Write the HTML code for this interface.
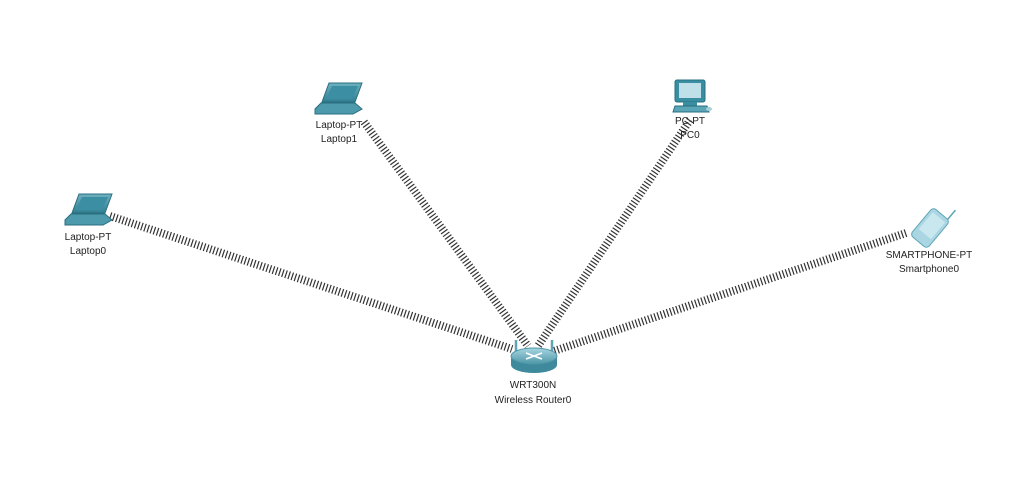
<!DOCTYPE html>
<html><head><style>
html,body{margin:0;padding:0;background:#fff;width:1024px;height:495px;overflow:hidden}
text{font-family:"Liberation Sans",sans-serif;font-size:10px;fill:#222;text-anchor:middle}
</style></head><body>
<svg width="1024" height="495" viewBox="0 0 1024 495" xmlns="http://www.w3.org/2000/svg">
<defs>
<linearGradient id="tl" x1="0" y1="0" x2="0" y2="1"><stop offset="0" stop-color="#6fb0c0"/><stop offset="1" stop-color="#2f7f92"/></linearGradient>
<linearGradient id="rt" x1="0" y1="0" x2="0" y2="1"><stop offset="0" stop-color="#a8d6e0"/><stop offset="1" stop-color="#4e97a8"/></linearGradient>
</defs>
<g stroke="#333" stroke-width="8" stroke-dasharray="1.2 2.1" fill="none">
<line x1="110" y1="216" x2="512" y2="349"/>
<line x1="364" y1="122" x2="528" y2="346"/>
<line x1="690" y1="120" x2="538" y2="346"/>
<line x1="906" y1="233" x2="554" y2="351"/>
</g>
<g transform="translate(65,193)">
<polygon points="14,1 47,1 40,20 7,20" fill="url(#tl)" stroke="#2a6f80"/>
<polygon points="17,4 43,4 37,17 11,17" fill="#3c8ea2"/>
<polygon points="6,21 40,21 47,27 38,32 0,32 0,27" fill="#4c9aac" stroke="#2a6f80"/>
</g>
<g transform="translate(315,82)">
<polygon points="14,1 47,1 40,20 7,20" fill="url(#tl)" stroke="#2a6f80"/>
<polygon points="17,4 43,4 37,17 11,17" fill="#3c8ea2"/>
<polygon points="6,21 40,21 47,27 38,32 0,32 0,27" fill="#4c9aac" stroke="#2a6f80"/>
</g>
<g transform="translate(673,80)">
<rect x="2" y="0" width="30" height="22" rx="2" fill="#3a8ea2" stroke="#2a6f80"/>
<rect x="6" y="3" width="22" height="15" fill="#bfe0e8"/>
<rect x="10" y="22" width="14" height="4" fill="#3a8ea2"/>
<polygon points="2,26 34,26 36,32 0,32" fill="#5aa5b6" stroke="#2a6f80"/>
<ellipse cx="36" cy="29" rx="3" ry="2" fill="#a9cfd8"/>
</g>
<g transform="translate(930,228) rotate(40)">
<rect x="-11" y="-18" width="22" height="36" rx="4" fill="#a9d6e2" stroke="#5fa5b6"/>
<rect x="-8" y="-14" width="16" height="22" fill="#c9e7ee"/>
<line x1="8" y1="-18" x2="8" y2="-30" stroke="#5fa5b6" stroke-width="1.5"/>
</g>
<g transform="translate(510,338)">
<line x1="6" y1="14" x2="6" y2="2" stroke="#5fa5b6" stroke-width="2.5"/>
<line x1="42" y1="14" x2="42" y2="2" stroke="#5fa5b6" stroke-width="2.5"/>
<path d="M1,18 L1,27 A23,8 0 0 0 47,27 L47,18 Z" fill="#3e8a9c"/>
<ellipse cx="24" cy="18" rx="23" ry="8" fill="url(#rt)" stroke="#4e97a8"/>
<path d="M16,15 L32,21 M32,15 L16,21" stroke="#fff" stroke-width="1.5"/>
</g>
<text x="88" y="240">Laptop-PT</text><text x="88" y="254">Laptop0</text>
<text x="339" y="128">Laptop-PT</text><text x="339" y="142">Laptop1</text>
<text x="690" y="124">PC-PT</text><text x="690" y="138">PC0</text>
<text x="929" y="258">SMARTPHONE-PT</text><text x="929" y="272">Smartphone0</text>
<text x="533" y="388">WRT300N</text><text x="533" y="403">Wireless Router0</text>
</svg>
</body></html>
